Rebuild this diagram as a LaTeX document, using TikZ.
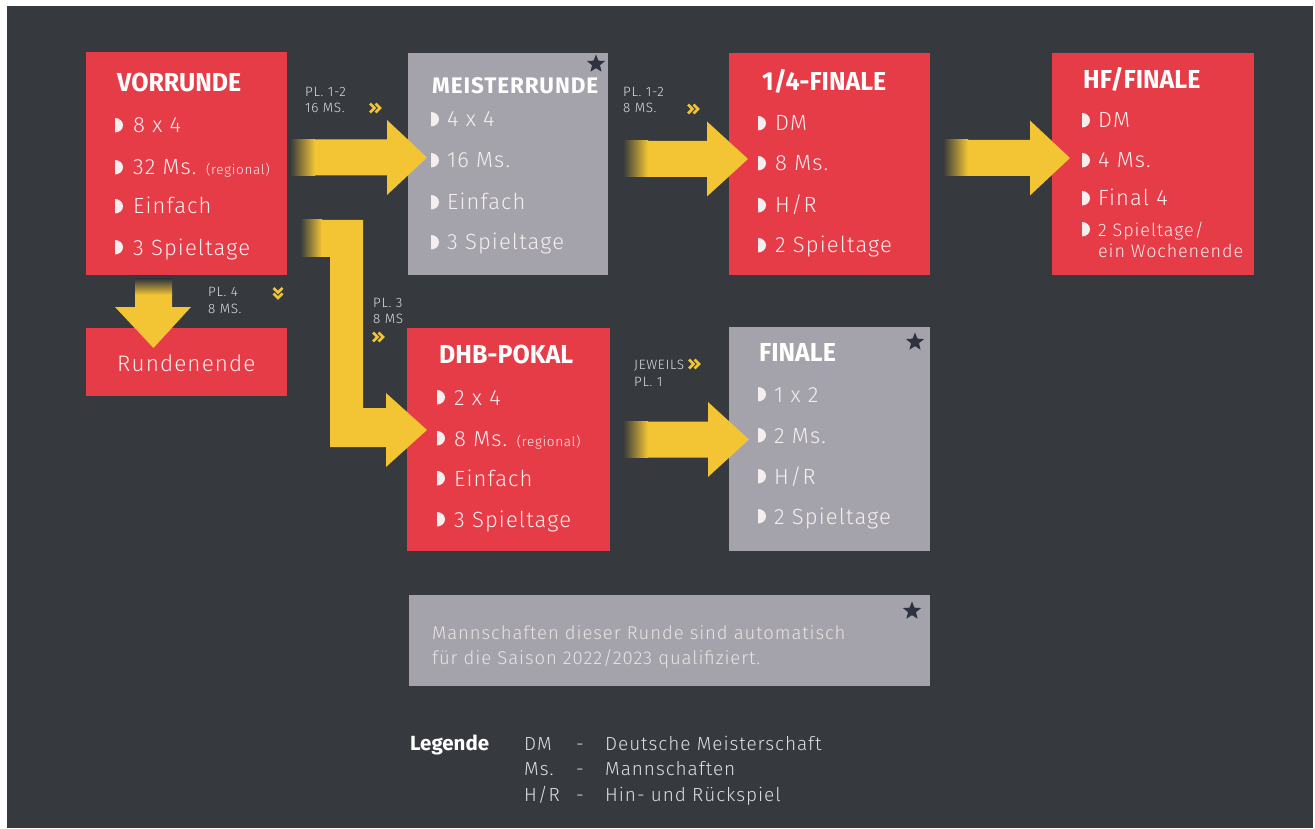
\documentclass[tikz,border=0pt]{standalone}
\usepackage{fontspec}
\setmainfont{Fira Sans}[UprightFont=* Light, BoldFont=* Bold]
\newfontfamily\tfont{Fira Sans}[UprightFont=* Bold, FakeStretch=0.96]
\newfontfamily\tsfont{Fira Sans}[UprightFont=* Bold, LetterSpace=4]
\newfontfamily\itfont{Fira Sans}[UprightFont=* Light, LetterSpace=5]
\usetikzlibrary{shapes.geometric}
\definecolor{bgc}{RGB}{54,57,62}
\definecolor{redc}{RGB}{230,60,72}
\definecolor{grayc}{RGB}{164,163,171}
\definecolor{yel}{RGB}{243,197,53}
\definecolor{starc}{RGB}{45,49,64}
\definecolor{itemc}{RGB}{246,238,238}
\definecolor{lblc}{RGB}{222,222,226}
\tikzset{
 box/.style={draw=none, inner sep=0, outer sep=0, anchor=north west},
 redbox/.style={box, fill=redc},
 graybox/.style={box, fill=grayc},
 ttl/.style={anchor=base west, inner sep=0, text=white, font=\tfont\fontsize{26}{30}\selectfont},
 itm/.style={anchor=base west, inner sep=0, text=itemc, font=\itfont\fontsize{22}{25}\selectfont},
 lbl/.style={anchor=base west, inner sep=0, text=lblc, font=\itfont\fontsize{13.5}{15}\selectfont},
 note/.style={anchor=base west, inner sep=0, text=itemc!85!grayc, font=\itfont\fontsize{18.5}{22}\selectfont},
 leg/.style={anchor=base west, inner sep=0, text=lblc, font=\itfont\fontsize{19}{22}\selectfont},
 starmark/.style={star, star points=5, star point ratio=2.3, fill=starc, minimum size=19pt, inner sep=0},
 chev/.style={draw=yel, line width=2.8pt},
 bul/.pic={\fill[itemc] (0,-0.5) -- (0,-15) .. controls (4.4,-15) and (8,-11.8) .. (8,-7.75) .. controls (8,-3.7) and (4.4,-0.5) .. (0,-0.5) -- cycle;}
}
\newcommand\fatarrow[4]{%
 \shade[left color=bgc,right color=yel] (#1,#2-18) rectangle (#1+25,#2+18);
 \fill[yel] (#1+24.5,#2-18) -- (#3,#2-18) -- (#3,#2-37.5) -- (#4,#2) -- (#3,#2+37.5) -- (#3,#2+18) -- (#1+24.5,#2+18) -- cycle;}
\newcommand\chevR[2]{%
 \draw[chev] (#1,#2-4.5) -- (#1+4.5,#2) -- (#1,#2+4.5);
 \draw[chev] (#1+5.5,#2-4.5) -- (#1+10,#2) -- (#1+5.5,#2+4.5);}
\newcommand\chevD[2]{%
 \draw[chev] (#1-4.5,#2) -- (#1,#2+4.5) -- (#1+4.5,#2);
 \draw[chev] (#1-4.5,#2+5.5) -- (#1,#2+10) -- (#1+4.5,#2+5.5);}
\begin{document}
\begin{tikzpicture}[x=1pt,y=-1pt]
\useasboundingbox (0,0) rectangle (1315,829);
\fill[white] (0,0) rectangle (1315,829);
\fill[bgc] (7,6) rectangle (1313,828);

% boxes
\node[redbox, minimum width=201pt, minimum height=223pt] (vr) at (86,52) {};
\node[graybox, minimum width=200pt, minimum height=222pt] (mr) at (408,53) {};
\node[redbox, minimum width=201pt, minimum height=222pt] (vf) at (729,53) {};
\node[redbox, minimum width=202pt, minimum height=222pt] (hf) at (1052,53) {};
\node[redbox, minimum width=201pt, minimum height=68pt] (re) at (86,328) {};
\node[redbox, minimum width=203pt, minimum height=223pt] (dp) at (407,328) {};
\node[graybox, minimum width=201pt, minimum height=224pt] (fi) at (729,327) {};
\node[graybox, minimum width=521pt, minimum height=91pt] (nb) at (409,595) {};

% stars
\node[starmark] (s1) at (596,64) {};
\node[starmark] (s2) at (915,342) {};
\node[starmark] (s3) at (912,611) {};

% VORRUNDE
\node[ttl] (vrt) at (117,92) {VORRUNDE};
\pic at (115,133) {bul}; \node[itm] (vr1) at (133,133) {8 x 4};
\pic at (115,175) {bul}; \node[itm] (vr2) at (133,175) {32 Ms. {\fontsize{13.5}{15}\selectfont (regional)}};
\pic at (115,214) {bul}; \node[itm] (vr3) at (133,214) {Einfach};
\pic at (115,255) {bul}; \node[itm] (vr4) at (133,255) {3 Spieltage};

% MEISTERRUNDE
\node[ttl, font=\tsfont\fontsize{22.5}{26}\selectfont] (mrt) at (432,94) {MEISTERRUNDE};
\pic at (431,127) {bul}; \node[itm] (mr1) at (447,127) {4 x 4};
\pic at (431,168) {bul}; \node[itm] (mr2) at (447,168) {16 Ms.};
\pic at (431,210) {bul}; \node[itm] (mr3) at (447,210) {Einfach};
\pic at (431,250) {bul}; \node[itm] (mr4) at (447,250) {3 Spieltage};

% 1/4-FINALE
\node[ttl] (vft) at (762,91) {1/4-FINALE};
\pic at (758,131) {bul}; \node[itm] (vf1) at (775,131) {DM};
\pic at (758,171) {bul}; \node[itm] (vf2) at (775,171) {8 Ms.};
\pic at (758,213) {bul}; \node[itm] (vf3) at (775,213) {H/R};
\pic at (758,253) {bul}; \node[itm] (vf4) at (775,253) {2 Spieltage};

% HF/FINALE
\node[ttl] (hft) at (1083,89) {HF/FINALE};
\pic at (1082,128) {bul}; \node[itm] (hf1) at (1098,128) {DM};
\pic at (1082,168) {bul}; \node[itm] (hf2) at (1098,168) {4 Ms.};
\pic at (1082,206) {bul}; \node[itm] (hf3) at (1098,206) {Final 4};
\pic at (1082,237) {bul};
\node[itm, font=\itfont\fontsize{18}{20}\selectfont] (hf4) at (1098,237) {2 Spieltage/};
\node[itm, font=\itfont\fontsize{18}{20}\selectfont] (hf5) at (1098,258) {ein Wochenende};

% Rundenende
\node[itm, font=\itfont\fontsize{22.5}{26}\selectfont] (ret) at (117,371) {Rundenende};

% DHB-POKAL
\node[ttl] (dpt) at (439,363) {DHB-POKAL};
\pic at (437,405) {bul}; \node[itm] (dp1) at (454,405) {2 x 4};
\pic at (437,446) {bul}; \node[itm] (dp2) at (454,446) {8 Ms. {\fontsize{13.5}{15}\selectfont (regional)}};
\pic at (437,486) {bul}; \node[itm] (dp3) at (454,486) {Einfach};
\pic at (437,527) {bul}; \node[itm] (dp4) at (454,527) {3 Spieltage};

% FINALE
\node[ttl] (fit) at (759,361) {FINALE};
\pic at (758,402) {bul}; \node[itm] (fi1) at (774,402) {1 x 2};
\pic at (758,443) {bul}; \node[itm] (fi2) at (774,443) {2 Ms.};
\pic at (758,484) {bul}; \node[itm] (fi3) at (774,484) {H/R};
\pic at (758,524) {bul}; \node[itm] (fi4) at (774,524) {2 Spieltage};

% note
\node[note] (n1) at (432,639) {Mannschaften dieser Runde sind automatisch};
\node[note] (n2) at (432,664) {für die Saison 2022/2023 qualifiziert.};

% legend
\node[anchor=base west, inner sep=0, text=white, font=\bfseries\fontsize{20.5}{24}\selectfont] (lg) at (410,750) {Legende};
\node[leg] (l1a) at (524,750) {DM};   \node[leg] (l1b) at (576,750) {-}; \node[leg] (l1c) at (605,750) {Deutsche Meisterschaft};
\node[leg] (l2a) at (524,775) {Ms.};  \node[leg] (l2b) at (576,775) {-}; \node[leg] (l2c) at (605,775) {Mannschaften};
\node[leg] (l3a) at (524,801) {H/R};  \node[leg] (l3b) at (576,801) {-}; \node[leg] (l3c) at (605,801) {Hin- und Rückspiel};

% arrows
\fatarrow{290}{157.5}{387}{427}
\fatarrow{623}{159}{707}{748}
\fatarrow{943}{158}{1030}{1070}
\fatarrow{623}{439.5}{708}{749}
\shade[left color=bgc,right color=yel] (300,220) rectangle (322,257);
\fill[yel] (321.5,220) -- (363,220) -- (363,408) -- (386,408) -- (386,393) -- (427,430) -- (386,467) -- (386,447) -- (330,447) -- (330,257) -- (321.5,257) -- cycle;
\shade[top color=bgc,bottom color=yel] (135,279) rectangle (172,295);
\fill[yel] (135,294.5) -- (172,294.5) -- (172,307) -- (191,307) -- (153.5,348) -- (115,307) -- (135,307) -- cycle;

% labels
\node[lbl] (a1) at (305,97) {PL. 1-2};
\node[lbl] (a2) at (305,113) {16 MS.};
\chevR{370}{108}
\node[lbl] (b1) at (623,97) {PL. 1-2};
\node[lbl] (b2) at (623,113) {8 MS.};
\chevR{688}{109}
\node[lbl] (c1) at (208,297) {PL. 4};
\node[lbl] (c2) at (208,313) {8 MS.};
\chevD{278}{288}
\node[lbl] (d1) at (373,307) {PL. 3};
\node[lbl] (d2) at (373,323) {8 MS};
\chevR{373}{337}
\node[lbl] (e1) at (634,369) {JEWEILS};
\node[lbl] (e2) at (634,386) {PL. 1};
\chevR{689}{364}
\end{tikzpicture}
\end{document}
